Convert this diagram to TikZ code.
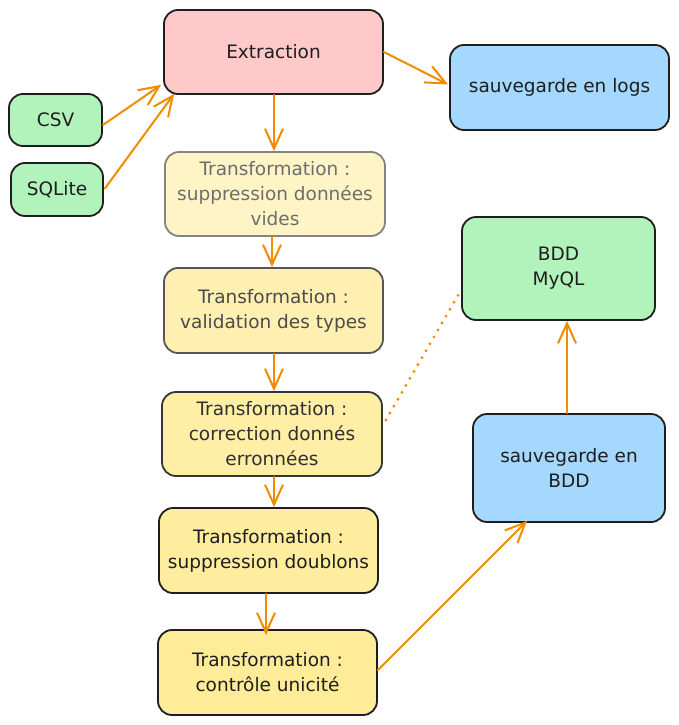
\documentclass[tikz,border=0pt]{standalone}
\usepackage{fontspec}
\setmainfont{DejaVu Sans}
\usetikzlibrary{arrows.meta,calc}
\definecolor{ink}{HTML}{1E1E1E}
\definecolor{arr}{HTML}{F08C00}
\definecolor{pinkf}{HTML}{FFC9C9}
\definecolor{bluef}{HTML}{A5D8FF}
\definecolor{greenf}{HTML}{B2F2BB}
\definecolor{yA}{HTML}{FFF4C6}
\definecolor{yB}{HTML}{FFF0B2}
\definecolor{yC}{HTML}{FFEEA6}
\definecolor{yD}{HTML}{FFED9F}
\definecolor{yE}{HTML}{FFEC99}
\tikzset{
  box/.style={draw=ink, line width=1.8pt, rounded corners=14pt, align=center,
    text=ink, font=\fontsize{18.5}{25}\selectfont, inner sep=0pt},
  flow/.style={draw=arr, line width=2pt, line cap=round,
    -{Straight Barb[length=20pt,width=18pt,line width=2pt]}},
  dots/.style={draw=arr, line width=3.2pt, line cap=round, dash pattern=on 0pt off 8pt},
}
\begin{document}
\begin{tikzpicture}[x=1pt,y=-1pt]
\useasboundingbox (0,0) rectangle (679,725);
\node[box, fill=pinkf, minimum width=219pt, minimum height=84pt] (ext) at (273.5,52) {Extraction};
\node[box, fill=bluef, minimum width=219pt, minimum height=85pt] (logs) at (559.5,87.5) {sauvegarde en logs};
\node[box, fill=greenf, minimum width=93pt, minimum height=52pt] (csv) at (55.5,120) {CSV};
\node[box, fill=greenf, minimum width=92pt, minimum height=53pt] (sql) at (57,189.5) {SQLite};
\node[box, fill=yA, draw=ink!55, text=ink!65, minimum width=220pt, minimum height=84pt] (t1) at (275,194)
  {Transformation :\\suppression données\\vides};
\node[box, fill=yB, draw=ink!75, text=ink!80, minimum width=219pt, minimum height=85pt] (t2) at (273.5,310.5)
  {Transformation :\\validation des types};
\node[box, fill=yC, draw=ink!90, text=ink!92, minimum width=220pt, minimum height=84pt] (t3) at (272,434)
  {Transformation :\\correction donnés\\erronnées};
\node[box, fill=yD, minimum width=219pt, minimum height=85pt] (t4) at (268.5,550.5)
  {Transformation :\\suppression doublons};
\node[box, fill=yE, minimum width=219pt, minimum height=85pt] (t5) at (267.5,672.5)
  {Transformation :\\contrôle unicité};
\node[box, fill=greenf, minimum width=193pt, minimum height=103pt] (bdd) at (558.5,268.5)
  {BDD\\MyQL};
\node[box, fill=bluef, minimum width=192pt, minimum height=108pt] (sbdd) at (569,468)
  {sauvegarde en\\BDD};

\draw[flow] (ext.east) -- ($(logs.west)+(-1,-3)$);
\draw[flow] ($(csv.east)+(0,5)$) -- ($(ext.south west)+(-2,-10)$);
\draw[flow] ($(sql.east)+(1,-1)$) -- ($(ext.south west)+(11,-1)$);
\draw[flow] ($(ext.south)+(0.5,0)$) -- ($(ext.south |- t1.north)+(0.5,0)$);
\draw[flow] ($(t1.south)+(-3,0)$) -- ($(t1.south |- t2.north)+(-3,0)$);
\draw[flow] ($(t2.south)+(0.5,0)$) -- ($(t2.south |- t3.north)+(0.5,0)$);
\draw[flow] ($(t3.south)+(2,0)$) -- ($(t3.south |- t4.north)+(2,0)$);
\draw[flow] ($(t4.south)+(-2.5,0)$) -- ($(t4.south |- t5.north)+(-2.5,6)$);
\draw[flow] ($(t5.east)+(0,-2.5)$) -- ($(sbdd.south)+(-42,-2)$);
\draw[flow] ($(sbdd.north)+(-2,0)$) -- ($(bdd.south)+(8.5,0)$);
\draw[dots] ($(t3.east)+(3,-14)$) -- ($(bdd.west)+(0,21.5)$);
\end{tikzpicture}
\end{document}
